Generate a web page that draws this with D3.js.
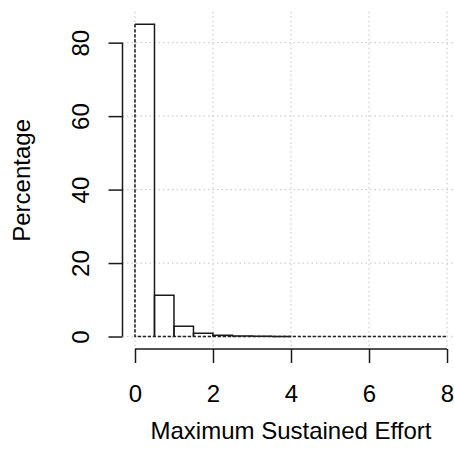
<!DOCTYPE html>
<html>
<head>
<meta charset="utf-8">
<script src="https://cdn.jsdelivr.net/npm/d3@7"></script>
<style>
  html, body { margin: 0; padding: 0; background: #fff; }
  svg { display: block; }
  text { font-family: "Liberation Sans", Arial, sans-serif; fill: #000; }
</style>
</head>
<body>
<svg id="chart" width="454" height="461"></svg>
<script>
// Histogram of maximum sustained effort (bin width 0.5)
const binStarts = [0, 0.5, 1, 1.5, 2, 2.5, 3, 3.5];
const binWidth = 0.5;
const percentages = [85.0, 11.2, 2.8, 0.9, 0.35, 0.12, 0.06, 0.03];
const xTicks = [0, 2, 4, 6, 8];
const yTicks = [0, 20, 40, 60, 80];
const xTitle = "Maximum Sustained Effort";
const yTitle = "Percentage";

const svg = d3.select("#chart");
const FS = 24;
const INK = "#1a1a1a";

// data ranges with 4% padding on each side
const xDom = [0, 8], yDom = [0, 85];
const xPad = (xDom[1] - xDom[0]) * 0.04, yPad = (yDom[1] - yDom[0]) * 0.04;
const x = d3.scaleLinear().domain([xDom[0] - xPad, xDom[1] + xPad]).range([122.5, 459.5]);
const y = d3.scaleLinear().domain([yDom[0] - yPad, yDom[1] + yPad]).range([349, 11.8]);

const plotTop = y.range()[1], plotBottom = y.range()[0];
const plotLeft = x.range()[0], plotRight = x.range()[1];

// dotted grid
const grid = svg.append("g").attr("stroke", "#cfcfcf").attr("stroke-width", 1.3)
  .attr("stroke-dasharray", "1.5,3");
grid.selectAll("line.v").data(xTicks).join("line").attr("class", "v")
  .attr("x1", d => x(d)).attr("x2", d => x(d))
  .attr("y1", plotTop).attr("y2", plotBottom);
grid.selectAll("line.h").data(yTicks).join("line").attr("class", "h")
  .attr("y1", d => y(d)).attr("y2", d => y(d))
  .attr("x1", plotLeft).attr("x2", plotRight);

// bar outlines: top and sides of each bin (the first bin's left side is the dashed x = 0 line)
svg.append("g").selectAll("path").data(binStarts).join("path")
  .attr("d", (d, i) => {
    const x0 = x(d), x1 = x(d + binWidth), yt = y(percentages[i]), yb = y(0);
    return i === 0 ? `M${x0},${yt}H${x1}V${yb}` : `M${x0},${yb}V${yt}H${x1}V${yb}`;
  })
  .attr("fill", "none").attr("stroke", INK).attr("stroke-width", 1.5);

// dashed reference lines at x = 0 and y = 0
const dashed = d3.line().x(d => x(d[0])).y(d => y(d[1]));
svg.append("path")
  .attr("d", dashed([[0, percentages[0]], [0, 0], [8, 0]]))
  .attr("fill", "none").attr("stroke", "#222").attr("stroke-width", 1.6)
  .attr("stroke-dasharray", "3.2,1.8");

// x axis
const xAxis = svg.append("g").attr("transform", `translate(0,${plotBottom})`)
  .call(d3.axisBottom(x).tickValues(xTicks).tickSize(14).tickFormat(d3.format("d")));
xAxis.selectAll("path,line").attr("stroke", INK).attr("stroke-width", 1.5);
xAxis.select(".domain").attr("d", `M${x(xTicks[0])},0H${x(xTicks[xTicks.length - 1])}`);
xAxis.selectAll("text").attr("font-size", FS).attr("font-family", "Liberation Sans, Arial, sans-serif")
  .attr("fill", "#000").attr("y", 53).attr("dy", null);

// y axis
const yAxis = svg.append("g").attr("transform", `translate(${plotLeft},0)`)
  .call(d3.axisLeft(y).tickValues(yTicks).tickSize(14).tickFormat(d3.format("d")));
yAxis.selectAll("path,line").attr("stroke", INK).attr("stroke-width", 1.5);
yAxis.select(".domain").attr("d", `M0,${y(yTicks[0])}V${y(yTicks[yTicks.length - 1])}`);
yAxis.selectAll("text")
  .attr("font-size", FS).attr("font-family", "Liberation Sans, Arial, sans-serif").attr("fill", "#000")
  .attr("x", null).attr("dy", null)
  .attr("text-anchor", "middle")
  .attr("transform", "translate(-34,0) rotate(-90)");

// axis titles
svg.append("text").attr("x", x(4)).attr("y", 439)
  .attr("text-anchor", "middle").attr("font-size", FS).text(xTitle);
svg.append("text").attr("transform", `translate(30,${(plotTop + plotBottom) / 2}) rotate(-90)`)
  .attr("text-anchor", "middle").attr("font-size", FS).text(yTitle);
</script>
</body>
</html>
